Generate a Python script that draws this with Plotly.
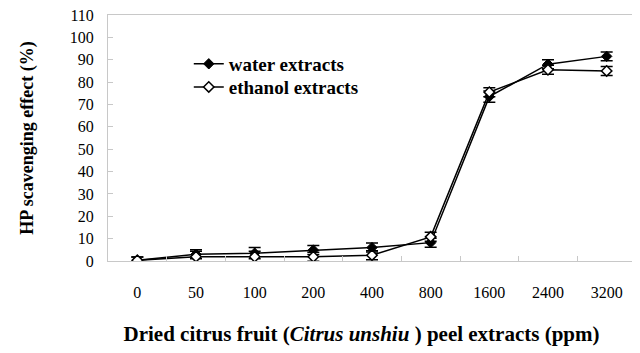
import plotly.graph_objects as go

categories = ["0", "50", "100", "200", "400", "800", "1600", "2400", "3200"]
water = [0.3, 3.0, 3.5, 4.9, 6.0, 8.2, 73.5, 88.0, 91.5]
water_err = [1.5, 2.0, 2.5, 2.0, 2.0, 2.0, 2.5, 2.0, 2.0]
ethanol = [0.3, 1.9, 1.9, 1.9, 2.6, 10.8, 75.5, 85.5, 85.0]
ethanol_err = [1.5, 2.5, 2.5, 2.0, 2.0, 2.0, 2.0, 2.0, 2.0]
y_ticks = list(range(0, 111, 10))

FONT = "Liberation Serif, Times New Roman, serif"

fig = go.Figure()
fig.add_trace(go.Scatter(
    x=categories, y=water, name="water extracts", mode="lines+markers",
    line=dict(color="black", width=1.5), legend="legend",
    marker=dict(symbol="diamond", size=8, color="black", line=dict(color="black", width=1)),
    error_y=dict(type="data", array=water_err, visible=True, color="black", thickness=1.5, width=6),
))
fig.add_trace(go.Scatter(
    x=categories, y=ethanol, name="ethanol extracts", mode="lines+markers",
    line=dict(color="black", width=1.5), legend="legend2",
    marker=dict(symbol="diamond", size=8, color="white", line=dict(color="black", width=1.5)),
    error_y=dict(type="data", array=ethanol_err, visible=True, color="black", thickness=1.5, width=6),
))

legend_style = dict(
    xanchor="left", yanchor="middle", bgcolor="rgba(0,0,0,0)",
    font=dict(family=FONT, size=19, color="black", weight="bold"),
    itemwidth=30,
)

# page body has an 8px default margin, so the figure is sized to fit the window
fig.update_layout(
    width=632, height=345,
    margin=dict(l=100, r=4, t=7, b=92, autoexpand=False),
    paper_bgcolor="white", plot_bgcolor="white",
    font=dict(family=FONT, color="black", size=16),
    showlegend=True,
    legend=dict(x=0.153, y=0.801, **legend_style),
    legend2=dict(x=0.153, y=0.707, **legend_style),
    xaxis=dict(
        type="category", categoryorder="array", categoryarray=categories,
        range=[-0.5, 8.5], automargin=False,
        showline=True, linecolor="#c8c8c8", linewidth=1, mirror=True,
        ticks="inside", tickson="boundaries", ticklen=5, tickcolor="#c8c8c8",
        showgrid=False, zeroline=False,
        tickfont=dict(family=FONT, size=16, color="black"),
        ticklabelstandoff=17, ticklabeloverflow="allow",
        title=dict(
            text="<b>Dried citrus fruit (<i>Citrus unshiu</i> ) peel extracts (ppm)</b>&nbsp;&nbsp;&nbsp;&nbsp;",
            font=dict(family=FONT, size=21, color="black"), standoff=26,
        ),
    ),
    yaxis=dict(
        range=[0, 110], tickvals=y_ticks, automargin=False,
        showline=True, linecolor="#c8c8c8", linewidth=1, mirror=True,
        ticks="inside", ticklen=5, tickcolor="#c8c8c8",
        showgrid=False, zeroline=False,
        tickfont=dict(family=FONT, size=16, color="black"),
        ticklabelstandoff=10, ticklabeloverflow="allow",
        title=dict(
            text="<b>HP scavenging effect (%)</b>",
            font=dict(family=FONT, size=18, color="black"), standoff=31,
        ),
    ),
)

fig.write_html("out.html")
